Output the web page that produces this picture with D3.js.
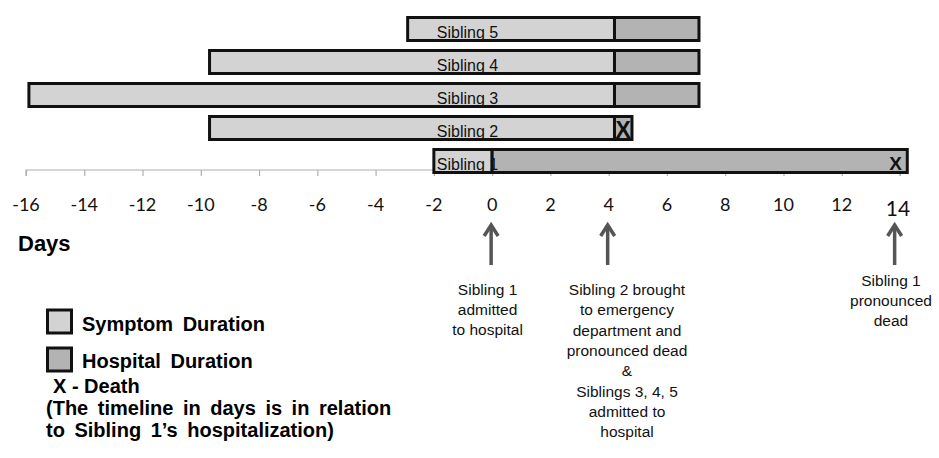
<!DOCTYPE html>
<html>
<head>
<meta charset="utf-8">
<script src="https://cdn.jsdelivr.net/npm/d3@7/dist/d3.min.js"></script>
<style>
  body { margin: 0; background: #fff; }
  svg { display: block; }
</style>
</head>
<body>
<div id="chart"></div>
<script>
// Data (days relative to Sibling 1's hospitalization)
var siblings = ["Sibling 5", "Sibling 4", "Sibling 3", "Sibling 2", "Sibling 1"];
var symptomStart = [-2.9, -9.7, -15.9, -9.7, -2.0];
var hospitalStart = [4.2, 4.2, 4.2, 4.2, 0];
var hospitalEnd = [7.1, 7.1, 7.1, 4.8, 14.25];
var deathDay = [null, null, null, 4.5, 13.85];

var tickValues = [-16, -14, -12, -10, -8, -6, -4, -2, 0, 2, 4, 6, 8, 10, 12, 14];

var eventDays = [0, 4, 13.85];
var eventLines = [
    ["Sibling 1", "admitted", "to hospital"],
    ["Sibling 2 brought", "to emergency", "department and", "pronounced dead", "&", "Siblings 3, 4, 5", "admitted to", "hospital"],
    ["Sibling 1", "pronounced", "dead"]
];

var legendLabels = ["Symptom Duration", "Hospital Duration"];
var noteLines = ["X - Death", "(The timeline in days is in relation", "to Sibling 1\u2019s hospitalization)"];

var symptomColor = "#d3d3d3";
var hospitalColor = "#b3b3b3";

var width = 939, height = 458;

var svg = d3.select("#chart").append("svg")
    .attr("width", width)
    .attr("height", height);

var x = d3.scaleLinear().domain([-16, 14]).range([26, 900]);
var y = d3.scaleBand().domain(siblings).range([12.5, 177.5])
    .paddingInner(0.212).paddingOuter(0.106);

// axis
var axisY = 170;
var axis = d3.axisBottom(x).tickValues(tickValues).tickSize(6).tickFormat("");
var gAxis = svg.append("g").attr("transform", "translate(0," + axisY + ")").call(axis);
gAxis.selectAll("path, line").attr("stroke", "#b0b0b0").attr("stroke-width", 1.2);
gAxis.select(".domain").attr("d", "M" + x(-16) + ",6V0H" + x(14) + "V6");

svg.append("g").selectAll("text")
    .data(tickValues)
    .enter().append("text")
    .attr("x", function (d) { return d === 14 ? x(d) - 2 : x(d); })
    .attr("y", function (d) { return d === 14 ? 216 : 211; })
    .attr("text-anchor", "middle")
    .style("font-family", "Lato, 'Open Sans', sans-serif")
    .style("font-size", function (d) { return d === 14 ? "21px" : "18px"; })
    .style("fill", "#111")
    .text(function (d) { return d; });

svg.append("text")
    .attr("x", 18).attr("y", 251)
    .style("font-family", "'Liberation Sans', Arial, sans-serif")
    .style("font-weight", "bold")
    .style("font-size", "22px")
    .text("Days");

// bars
var bars = svg.append("g");
var rows = siblings.map(function (s, i) { return i; });

bars.selectAll("rect.symptom")
    .data(rows).enter().append("rect")
    .attr("class", "symptom")
    .attr("x", function (i) { return x(symptomStart[i]); })
    .attr("y", function (i) { return y(siblings[i]) + 1.5; })
    .attr("width", function (i) { return x(hospitalStart[i]) - x(symptomStart[i]); })
    .attr("height", y.bandwidth() - 3)
    .attr("fill", symptomColor)
    .attr("stroke", "#111")
    .attr("stroke-width", 3);

bars.selectAll("rect.hospital")
    .data(rows).enter().append("rect")
    .attr("class", "hospital")
    .attr("x", function (i) { return x(hospitalStart[i]); })
    .attr("y", function (i) { return y(siblings[i]) + 1.5; })
    .attr("width", function (i) { return x(hospitalEnd[i]) - x(hospitalStart[i]); })
    .attr("height", y.bandwidth() - 3)
    .attr("fill", hospitalColor)
    .attr("stroke", "#111")
    .attr("stroke-width", 3);

bars.selectAll("text.label")
    .data(rows).enter().append("text")
    .attr("class", "label")
    .attr("x", x(-2) + 3)
    .attr("y", function (i) { return y(siblings[i]) + y.bandwidth() - 4; })
    .style("font-family", "'Liberation Sans', Arial, sans-serif")
    .style("font-size", "16px")
    .style("fill", "#111")
    .text(function (i) { return siblings[i]; });

bars.selectAll("text.death")
    .data(rows.filter(function (i) { return deathDay[i] !== null; }))
    .enter().append("text")
    .attr("class", "death")
    .attr("x", function (i) { return x(deathDay[i]); })
    .attr("y", function (i) { return y(siblings[i]) + y.bandwidth() - (i === 3 ? 3 : 4); })
    .attr("text-anchor", "middle")
    .style("font-family", "'Liberation Sans', Arial, sans-serif")
    .style("font-weight", "bold")
    .style("font-size", function (i) { return i === 3 ? "23px" : "19px"; })
    .style("fill", "#111")
    .text("X");

// event arrows
var events = svg.append("g");
events.selectAll("line")
    .data(eventDays).enter().append("line")
    .attr("x1", function (d) { return x(d) - 1; })
    .attr("x2", function (d) { return x(d) - 1; })
    .attr("y1", 265).attr("y2", 225)
    .attr("stroke", "#555")
    .attr("stroke-width", 3.5);

events.selectAll("path")
    .data(eventDays).enter().append("path")
    .attr("d", function (d) {
        var cx = x(d) - 1;
        return "M" + (cx - 7) + "," + 236 + "L" + cx + "," + 225 + "L" + (cx + 7) + "," + 236;
    })
    .attr("fill", "none")
    .attr("stroke", "#555")
    .attr("stroke-width", 3.5)
    .attr("stroke-linejoin", "miter");

eventDays.forEach(function (d, k) {
    var t = events.append("text")
        .attr("text-anchor", "middle")
        .style("font-family", "'Liberation Sans', Arial, sans-serif")
        .style("font-size", "15.5px")
        .style("fill", "#111");
    var cx = [487.6, 627, 891][k];
    var top = [294.5, 295, 285.5][k];
    eventLines[k].forEach(function (line, j) {
        t.append("tspan").attr("x", cx).attr("y", top + j * 20.3).text(line);
    });
});

// legend
var legend = svg.append("g");
legend.selectAll("rect")
    .data(legendLabels).enter().append("rect")
    .attr("x", 47.5)
    .attr("y", function (d, i) { return 310 + i * 38; })
    .attr("width", 24).attr("height", 23)
    .attr("fill", function (d, i) { return i === 0 ? symptomColor : hospitalColor; })
    .attr("stroke", "#111")
    .attr("stroke-width", 3);

legend.selectAll("text.lg")
    .data(legendLabels).enter().append("text")
    .attr("class", "lg")
    .attr("x", 82)
    .attr("y", function (d, i) { return 331 + i * 37; })
    .style("font-family", "'Liberation Sans', Arial, sans-serif")
    .style("font-weight", "bold")
    .style("font-size", "20px")
    .style("word-spacing", "4px")
    .text(function (d) { return d; });

legend.selectAll("text.note")
    .data(noteLines).enter().append("text")
    .attr("class", "note")
    .attr("x", function (d, i) { return i === 0 ? 53 : 46; })
    .attr("y", function (d, i) { return 393 + i * 22; })
    .style("font-family", "'Liberation Sans', Arial, sans-serif")
    .style("font-weight", "bold")
    .style("font-size", "20px")
    .style("word-spacing", function (d, i) { return i === 0 ? "0px" : "4px"; })
    .text(function (d) { return d; });
</script>
</body>
</html>
